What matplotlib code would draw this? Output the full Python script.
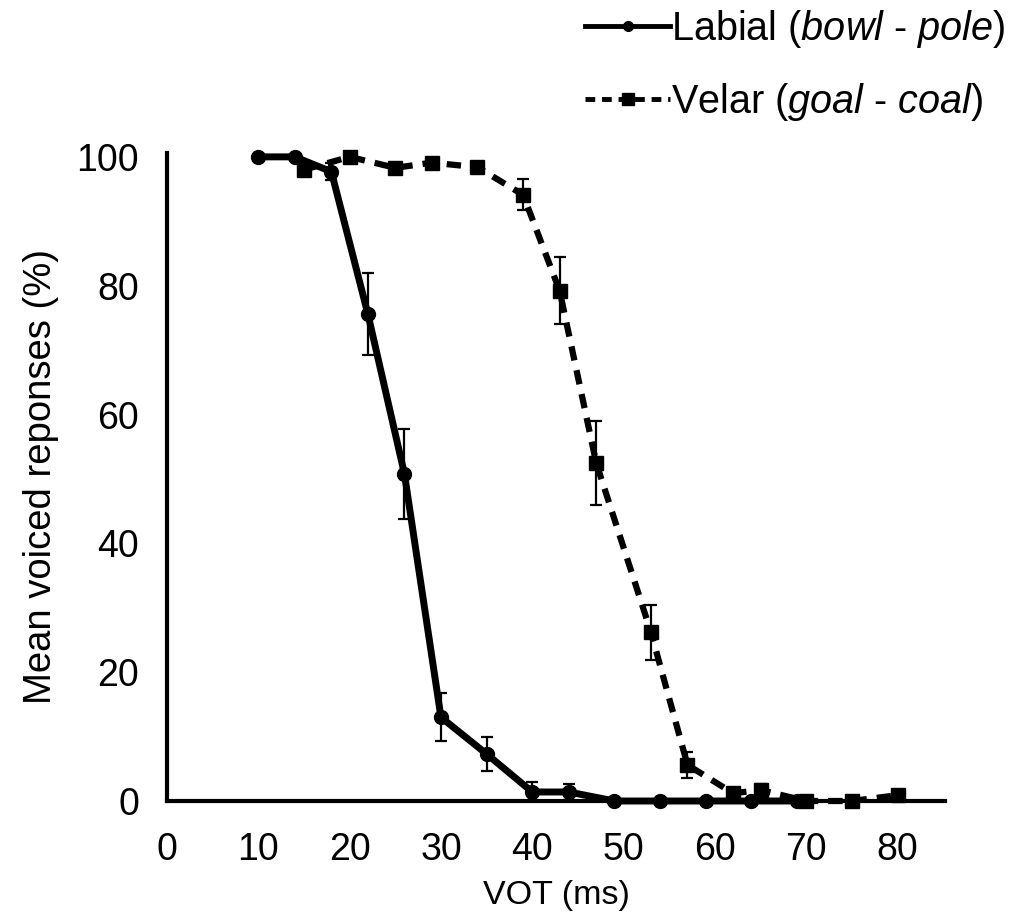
import matplotlib
matplotlib.use("Agg")
import matplotlib.pyplot as plt
from matplotlib.lines import Line2D

plt.rcParams['font.family'] = ['Liberation Sans', 'DejaVu Sans']
plt.rcParams['mathtext.fontset'] = 'custom'
plt.rcParams['mathtext.it'] = 'Liberation Sans:italic'
plt.rcParams['mathtext.rm'] = 'Liberation Sans'

# Data
labial_vot = [10, 14, 18, 22, 26, 30, 35, 40, 44, 49, 54, 59, 64, 69]
labial_resp = [100, 100, 97.7, 75.6, 50.8, 13.0, 7.3, 1.4, 1.4, 0, 0, 0, 0, 0]
labial_err = [0, 0, 1.3, 6.3, 7.0, 3.7, 2.6, 1.6, 1.3, 0, 0, 0, 0, 0]

velar_vot = [15, 20, 25, 29, 34, 39, 43, 47, 53, 57, 62, 65, 70, 75, 80]
velar_resp = [98.0, 100, 98.3, 99.1, 98.4, 94.1, 79.2, 52.5, 26.2, 5.6, 1.2, 1.7, 0, 0, 0.9]
velar_err = [0, 0, 0, 0, 0, 2.4, 5.2, 6.5, 4.3, 2.0, 0, 1.0, 0, 0, 0]

x_ticks = [0, 10, 20, 30, 40, 50, 60, 70, 80]
y_ticks = [0, 20, 40, 60, 80, 100]
labels = ["Labial ($\\it{bowl}$ - $\\it{pole}$)", "Velar ($\\it{goal}$ - $\\it{coal}$)"]

fig = plt.figure(figsize=(10.16, 9.24), dpi=100)
ax = fig.add_axes([167/1016, 1 - 801/924, (945 - 167)/1016, (801 - 153)/924])

dash = (0, (2.3, 1.6))
ax.errorbar(velar_vot, velar_resp, yerr=velar_err, fmt='none', ecolor='black',
            elinewidth=1.6, capsize=4.5, capthick=1.6, zorder=2)
ax.plot(velar_vot, velar_resp, color='black', lw=4.5, linestyle=dash,
        marker='s', markersize=10, zorder=3, clip_on=False)
ax.errorbar(labial_vot, labial_resp, yerr=labial_err, fmt='none', ecolor='black',
            elinewidth=1.6, capsize=4.5, capthick=1.6, zorder=2)
ax.plot(labial_vot, labial_resp, color='black', lw=5, linestyle='-',
        marker='o', markersize=10, zorder=4, clip_on=False)

ax.set_xlim(0, 85.2)
ax.set_ylim(0, 100.6)
ax.set_xticks(x_ticks)
ax.set_yticks(y_ticks)
ax.tick_params(length=0, labelsize=27)
ax.tick_params(axis='x', pad=22)
ax.tick_params(axis='y', pad=20)
for s in ['top', 'right']:
    ax.spines[s].set_visible(False)
for s in ['left', 'bottom']:
    ax.spines[s].set_linewidth(3)
ax.set_xlabel("VOT (ms)", fontsize=24.5, labelpad=9)
ax.set_ylabel("Mean voiced reponses (%)", fontsize=27.5, labelpad=13)

handles = [Line2D([], [], color='black', lw=3.5, marker='o', markersize=7),
           Line2D([], [], color='black', lw=3.5, linestyle=(0, (2.0, 1.4)), marker='s', markersize=8)]
fig.legend(handles, labels, loc='upper left', bbox_to_anchor=(585/1016, 1 - 8/924),
           frameon=False, fontsize=28.5, handlelength=2.15, handletextpad=0.03,
           labelspacing=0.78, borderaxespad=0, borderpad=0)

fig.savefig("out.png", dpi=100)
